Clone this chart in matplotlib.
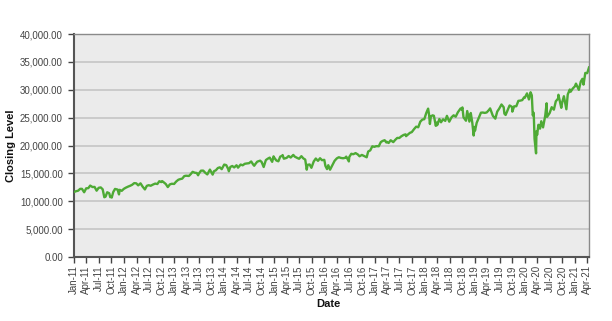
import matplotlib
matplotlib.use("Agg")
import matplotlib.pyplot as plt
import matplotlib.dates as mdates
import matplotlib.ticker as mticker
import pandas as pd

dates = [
    "2011-01-03", "2011-01-14", "2011-01-31", "2011-02-15", "2011-02-28", "2011-03-16", "2011-03-31", "2011-04-15",
    "2011-04-29", "2011-05-16", "2011-05-31", "2011-06-15", "2011-06-30", "2011-07-15", "2011-07-29", "2011-08-10",
    "2011-08-19", "2011-08-31", "2011-09-15", "2011-09-22", "2011-09-30", "2011-10-03", "2011-10-14", "2011-10-27",
    "2011-11-15", "2011-11-25", "2011-11-30", "2011-12-15", "2011-12-30",
    "2012-01-13", "2012-01-31", "2012-02-15", "2012-02-29", "2012-03-15", "2012-03-30", "2012-04-13", "2012-04-30",
    "2012-05-15", "2012-06-01", "2012-06-15", "2012-06-29", "2012-07-13", "2012-07-31", "2012-08-15", "2012-08-31",
    "2012-09-14", "2012-09-28", "2012-10-05", "2012-10-15", "2012-10-31", "2012-11-15", "2012-11-30", "2012-12-14",
    "2012-12-31",
    "2013-01-15", "2013-01-31", "2013-02-15", "2013-02-28", "2013-03-15", "2013-03-28", "2013-04-18", "2013-04-30",
    "2013-05-15", "2013-05-31", "2013-06-14", "2013-06-24", "2013-06-28", "2013-07-15", "2013-07-31", "2013-08-15",
    "2013-08-30", "2013-09-18", "2013-09-30", "2013-10-08", "2013-10-18", "2013-10-31", "2013-11-15", "2013-11-29",
    "2013-12-13", "2013-12-31",
    "2014-01-15", "2014-01-31", "2014-02-03", "2014-02-14", "2014-02-28", "2014-03-14", "2014-03-31", "2014-04-11",
    "2014-04-30", "2014-05-15", "2014-05-30", "2014-06-13", "2014-06-30", "2014-07-16", "2014-07-31", "2014-08-07",
    "2014-08-15", "2014-08-29", "2014-09-19", "2014-09-30", "2014-10-15", "2014-10-31", "2014-11-14", "2014-11-28",
    "2014-12-16", "2014-12-26", "2014-12-31",
    "2015-01-15", "2015-01-30", "2015-02-13", "2015-02-27", "2015-03-02", "2015-03-11", "2015-03-31", "2015-04-15",
    "2015-04-30", "2015-05-19", "2015-05-29", "2015-06-15", "2015-06-30", "2015-07-17", "2015-07-31", "2015-08-14",
    "2015-08-25", "2015-08-31", "2015-09-15", "2015-09-28", "2015-10-15", "2015-10-30", "2015-11-15", "2015-11-30",
    "2015-12-14", "2015-12-31",
    "2016-01-08", "2016-01-20", "2016-01-29", "2016-02-11", "2016-02-29", "2016-03-15", "2016-03-31", "2016-04-15",
    "2016-04-29", "2016-05-16", "2016-05-31", "2016-06-08", "2016-06-27", "2016-06-30", "2016-07-15", "2016-07-29",
    "2016-08-15", "2016-08-31", "2016-09-13", "2016-09-30", "2016-10-14", "2016-11-04", "2016-11-15", "2016-11-30",
    "2016-12-15", "2016-12-30",
    "2017-01-13", "2017-01-31", "2017-02-15", "2017-02-28", "2017-03-15", "2017-03-27", "2017-03-31", "2017-04-13",
    "2017-04-28", "2017-05-17", "2017-05-31", "2017-06-15", "2017-06-30", "2017-07-14", "2017-07-31", "2017-08-15",
    "2017-08-18", "2017-08-31", "2017-09-15", "2017-09-29", "2017-10-16", "2017-10-31", "2017-11-15", "2017-11-30",
    "2017-12-15", "2017-12-29",
    "2018-01-12", "2018-01-26", "2018-02-02", "2018-02-08", "2018-02-15", "2018-02-27", "2018-03-09", "2018-03-23",
    "2018-03-29", "2018-04-02", "2018-04-18", "2018-04-30", "2018-05-15", "2018-05-31", "2018-06-12", "2018-06-29",
    "2018-07-16", "2018-07-31", "2018-08-15", "2018-08-31", "2018-09-20", "2018-09-28", "2018-10-03", "2018-10-11",
    "2018-10-29", "2018-11-07", "2018-11-23", "2018-11-30", "2018-12-03", "2018-12-14", "2018-12-24", "2018-12-31",
    "2019-01-03", "2019-01-15", "2019-01-31", "2019-02-15", "2019-02-28", "2019-03-15", "2019-03-29", "2019-04-15",
    "2019-04-23", "2019-05-13", "2019-05-31", "2019-06-14", "2019-06-28", "2019-07-15", "2019-07-31", "2019-08-05",
    "2019-08-14", "2019-08-30", "2019-09-12", "2019-09-30", "2019-10-02", "2019-10-15", "2019-10-31", "2019-11-15",
    "2019-11-29", "2019-12-13", "2019-12-27", "2019-12-31",
    "2020-01-17", "2020-01-31", "2020-02-12", "2020-02-21", "2020-02-28", "2020-03-06", "2020-03-12", "2020-03-16",
    "2020-03-23", "2020-03-26", "2020-03-31", "2020-04-09", "2020-04-21", "2020-04-30", "2020-05-13", "2020-05-29",
    "2020-06-08", "2020-06-11", "2020-06-30", "2020-07-15", "2020-07-31", "2020-08-14", "2020-08-31", "2020-09-02",
    "2020-09-23", "2020-09-30", "2020-10-12", "2020-10-30", "2020-11-09", "2020-11-24", "2020-11-30", "2020-12-15",
    "2020-12-31",
    "2021-01-08", "2021-01-29", "2021-02-12", "2021-02-24", "2021-03-04", "2021-03-17", "2021-03-31", "2021-04-13",
]

closing = [
    11670, 11787, 11892, 12226, 12226, 11613, 12320, 12341,
    12811, 12548, 12570, 11897, 12414, 12480, 12143, 10720,
    10817, 11614, 11433, 10733, 10913, 10655, 11644, 12209,
    12096, 11231, 12046, 11868, 12218,
    12422, 12633, 12781, 12952, 13253, 13212, 12850, 13214,
    12632, 12119, 12767, 12880, 12777, 13009, 13165, 13091,
    13593, 13437, 13610, 13424, 13096, 12543, 13026, 13135,
    13104,
    13534, 13861, 13982, 14054, 14514, 14579, 14537, 14840,
    15275, 15116, 15071, 14660, 14910, 15485, 15500, 15112,
    14810, 15677, 15130, 14777, 15400, 15546, 15962, 16086,
    15755, 16577,
    16482, 15699, 15373, 16154, 16322, 16066, 16458, 16027,
    16581, 16447, 16717, 16776, 16827, 17138, 16563, 16368,
    16663, 17098, 17280, 17043, 16142, 17391, 17635, 17828,
    17068, 18054, 17823,
    17320, 17165, 18019, 18133, 18288, 17635, 17776, 18113,
    17841, 18312, 18011, 17791, 17620, 18086, 17690, 17477,
    15666, 16528, 16599, 16001, 17141, 17664, 17245, 17720,
    17368, 17425,
    16346, 15766, 16466, 15660, 16517, 17251, 17685, 17897,
    17773, 17710, 17787, 18005, 17140, 17930, 18516, 18432,
    18636, 18401, 18066, 18308, 18138, 17888, 18923, 19124,
    19853, 19763,
    19885, 19864, 20611, 20812, 20950, 20550, 20663, 20453,
    20941, 20606, 21009, 21360, 21350, 21638, 21891, 22000,
    21674, 21948, 22268, 22405, 22957, 23377, 23271, 24272,
    24652, 24719,
    25803, 26617, 25521, 23860, 25200, 25410, 25336, 23533,
    24103, 23644, 24748, 24163, 24706, 24416, 25320, 24271,
    25064, 25415, 25162, 25965, 26657, 26458, 26828, 25053,
    24443, 26180, 24286, 25538, 25826, 24101, 21792, 23327,
    22686, 24065, 24999, 25883, 25916, 25849, 25929, 26384,
    26656, 25324, 24815, 26090, 26600, 27359, 26864, 25718,
    25479, 26403, 27182, 26917, 26079, 27024, 27046, 28005,
    28051, 28135, 28645, 28538,
    29348, 28256, 29551, 28992, 25409, 25865, 21200, 20189,
    18592, 22552, 21917, 23719, 23019, 24346, 23248, 25383,
    27572, 25128, 25813, 26871, 26428, 27931, 28430, 29100,
    26763, 27782, 28837, 26502, 29158, 30046, 29639, 30199,
    30606,
    31098, 29983, 31458, 31962, 30924, 33015, 32982, 34000,
]

y_ticks = [0, 5000, 10000, 15000, 20000, 25000, 30000, 35000, 40000]

df = pd.DataFrame({"date": pd.to_datetime(dates), "close": closing})

plt.rcParams['font.family'] = ['Liberation Sans', 'DejaVu Sans']

fig = plt.figure(figsize=(6.12, 3.21), dpi=100)
ax = fig.add_axes([74/612, 1 - 257/321, (589 - 74)/612, (257 - 34)/321])
ax.set_facecolor('#EBEBEB')

ax.plot(df["date"], df["close"], color='#4EAA35', linewidth=1.7, zorder=3)

ax.set_ylim(0, 40000)
ax.set_yticks(y_ticks)
ax.yaxis.set_major_formatter(mticker.FuncFormatter(lambda v, p: f"{v:,.2f}"))
ax.grid(axis='y', color='#C8C8C8', linewidth=1.3, zorder=1)
ax.set_axisbelow(True)

ax.set_xlim(pd.Timestamp("2011-01-01"), pd.Timestamp("2021-04-13"))
ax.xaxis.set_major_locator(mdates.MonthLocator(bymonth=[1, 4, 7, 10]))
ax.xaxis.set_major_formatter(mdates.DateFormatter("%b-%y"))
plt.setp(ax.get_xticklabels(), rotation=90, ha='center', va='top')

ax.tick_params(axis='both', labelsize=7, colors='#444444', length=4, width=1, direction='out')
ax.tick_params(axis='x', pad=2)
ax.tick_params(axis='y', pad=4)

for s in ['top', 'right']:
    ax.spines[s].set_color('#8A8A8A')
    ax.spines[s].set_linewidth(1.0)
for s in ['left', 'bottom']:
    ax.spines[s].set_color('#555555')
    ax.spines[s].set_linewidth(1.5)

ax.set_ylabel("Closing Level", fontsize=8, fontweight='bold', color='#111111')
ax.yaxis.set_label_coords(-0.112, 0.5)
ax.set_xlabel("Date", fontsize=8, fontweight='bold', color='#111111')
ax.xaxis.set_label_coords(0.493, -0.19)

fig.savefig("out.png", dpi=100, facecolor='white')
